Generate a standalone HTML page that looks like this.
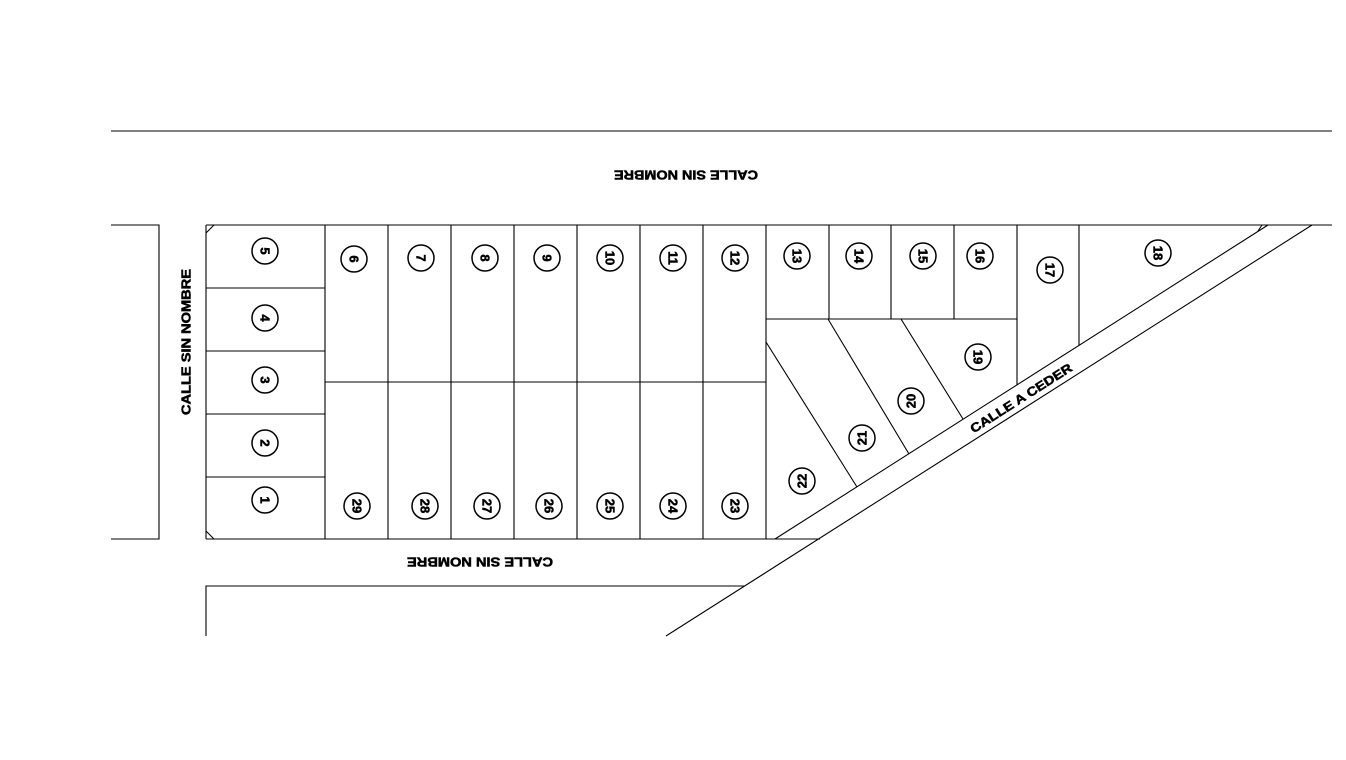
<!DOCTYPE html>
<html><head><meta charset="utf-8"><style>
html,body{margin:0;padding:0;background:#fff}
svg{display:block}
text{font-family:"Liberation Sans",Arial,sans-serif;font-weight:bold;fill:#000;stroke:#000;stroke-width:0.5}
</style></head><body>
<svg width="1346" height="760" viewBox="0 0 1346 760" xmlns="http://www.w3.org/2000/svg">
<g stroke="#000" stroke-width="1.1" fill="none">
<line x1="111" y1="131" x2="1332" y2="131"/>
<polyline points="111,225 159,225 159,539 111,539"/>
<line x1="206" y1="225" x2="1332" y2="225"/>
<line x1="206" y1="225" x2="206" y2="539"/>
<line x1="206" y1="539" x2="820" y2="539"/>
<line x1="206" y1="233" x2="214" y2="225"/>
<line x1="206" y1="531" x2="214" y2="539"/>
<line x1="206" y1="288" x2="325" y2="288"/>
<line x1="206" y1="351" x2="325" y2="351"/>
<line x1="206" y1="414" x2="325" y2="414"/>
<line x1="206" y1="477" x2="325" y2="477"/>
<line x1="325" y1="225" x2="325" y2="539"/>
<line x1="388" y1="225" x2="388" y2="539"/>
<line x1="451" y1="225" x2="451" y2="539"/>
<line x1="514" y1="225" x2="514" y2="539"/>
<line x1="577" y1="225" x2="577" y2="539"/>
<line x1="640" y1="225" x2="640" y2="539"/>
<line x1="703" y1="225" x2="703" y2="539"/>
<line x1="766" y1="225" x2="766" y2="539"/>
<line x1="325" y1="382" x2="766" y2="382"/>
<line x1="829" y1="225" x2="829" y2="319"/>
<line x1="891" y1="225" x2="891" y2="319"/>
<line x1="954" y1="225" x2="954" y2="319"/>
<line x1="1017" y1="225" x2="1017" y2="385"/>
<line x1="1079" y1="225" x2="1079" y2="345"/>
<line x1="766" y1="319" x2="1017" y2="319"/>
<line x1="775" y1="539" x2="1268" y2="225"/>
<line x1="666" y1="636" x2="1312" y2="225"/>
<line x1="1258" y1="231" x2="1262" y2="225"/>
<line x1="901" y1="319" x2="963" y2="419"/>
<line x1="828" y1="319" x2="909" y2="454"/>
<line x1="766" y1="342" x2="857" y2="487"/>
<polyline points="745,586 206,586 206,636"/>
</g>
<g stroke="#000" stroke-width="1.5" fill="#fff">
<circle cx="265" cy="500" r="13"/><circle cx="265" cy="443" r="13"/><circle cx="265" cy="380" r="13"/><circle cx="265" cy="318" r="13"/><circle cx="265" cy="251" r="13"/>
<circle cx="354" cy="259" r="13"/><circle cx="421" cy="258" r="13"/><circle cx="485" cy="258" r="13"/><circle cx="547" cy="258" r="13"/><circle cx="610" cy="258" r="13"/><circle cx="673" cy="258" r="13"/><circle cx="735" cy="258" r="13"/>
<circle cx="797" cy="256" r="13"/><circle cx="859" cy="256" r="13"/><circle cx="923" cy="256" r="13"/><circle cx="980" cy="256" r="13"/><circle cx="1050" cy="270" r="13"/><circle cx="1158" cy="253" r="13"/>
<circle cx="978" cy="357" r="13"/><circle cx="911" cy="401" r="13"/><circle cx="862" cy="438" r="13"/><circle cx="802" cy="481" r="13"/>
<circle cx="357" cy="506" r="13"/><circle cx="425" cy="506" r="13"/><circle cx="487" cy="506" r="13"/><circle cx="549" cy="506" r="13"/><circle cx="610" cy="506" r="13"/><circle cx="673" cy="506" r="13"/><circle cx="735" cy="506" r="13"/>
</g>
<g font-size="13" text-anchor="middle">
<text transform="translate(265,500) rotate(90)" dy="4.5">1</text>
<text transform="translate(265,443) rotate(90)" dy="4.5">2</text>
<text transform="translate(265,380) rotate(90)" dy="4.5">3</text>
<text transform="translate(265,318) rotate(90)" dy="4.5">4</text>
<text transform="translate(265,251) rotate(90)" dy="4.5">5</text>
<text transform="translate(354,259) rotate(90)" dy="4.5">6</text>
<text transform="translate(421,258) rotate(90)" dy="4.5">7</text>
<text transform="translate(485,258) rotate(90)" dy="4.5">8</text>
<text transform="translate(547,258) rotate(90)" dy="4.5">9</text>
<text transform="translate(610,258) rotate(90)" dy="4.5">10</text>
<text transform="translate(673,258) rotate(90)" dy="4.5">11</text>
<text transform="translate(735,258) rotate(90)" dy="4.5">12</text>
<text transform="translate(797,256) rotate(90)" dy="4.5">13</text>
<text transform="translate(859,256) rotate(90)" dy="4.5">14</text>
<text transform="translate(923,256) rotate(90)" dy="4.5">15</text>
<text transform="translate(980,256) rotate(90)" dy="4.5">16</text>
<text transform="translate(1050,270) rotate(90)" dy="4.5">17</text>
<text transform="translate(1158,253) rotate(90)" dy="4.5">18</text>
<text transform="translate(978,357) rotate(90)" dy="4.5">19</text>
<text transform="translate(911,401) rotate(-90)" dy="4.5">20</text>
<text transform="translate(862,438) rotate(-90)" dy="4.5">21</text>
<text transform="translate(802,481) rotate(-90)" dy="4.5">22</text>
<text transform="translate(735,506) rotate(90)" dy="4.5">23</text>
<text transform="translate(673,506) rotate(90)" dy="4.5">24</text>
<text transform="translate(610,506) rotate(90)" dy="4.5">25</text>
<text transform="translate(549,506) rotate(90)" dy="4.5">26</text>
<text transform="translate(487,506) rotate(90)" dy="4.5">27</text>
<text transform="translate(425,506) rotate(90)" dy="4.5">28</text>
<text transform="translate(357,506) rotate(90)" dy="4.5">29</text>
</g>
<g font-size="12.5" text-anchor="middle">
<text transform="translate(686,175) rotate(180)" dy="4.5" textLength="144" lengthAdjust="spacingAndGlyphs">CALLE SIN NOMBRE</text>
<text transform="translate(480,562) rotate(180)" dy="4.5" textLength="146" lengthAdjust="spacingAndGlyphs">CALLE SIN NOMBRE</text>
<text transform="translate(186,342) rotate(-90)" dy="4.5" textLength="146" lengthAdjust="spacingAndGlyphs">CALLE SIN NOMBRE</text>
<text transform="translate(1021,398) rotate(-32.5)" dy="4.5" textLength="118" lengthAdjust="spacingAndGlyphs">CALLE A CEDER</text>
</g>
</svg>
</body></html>
